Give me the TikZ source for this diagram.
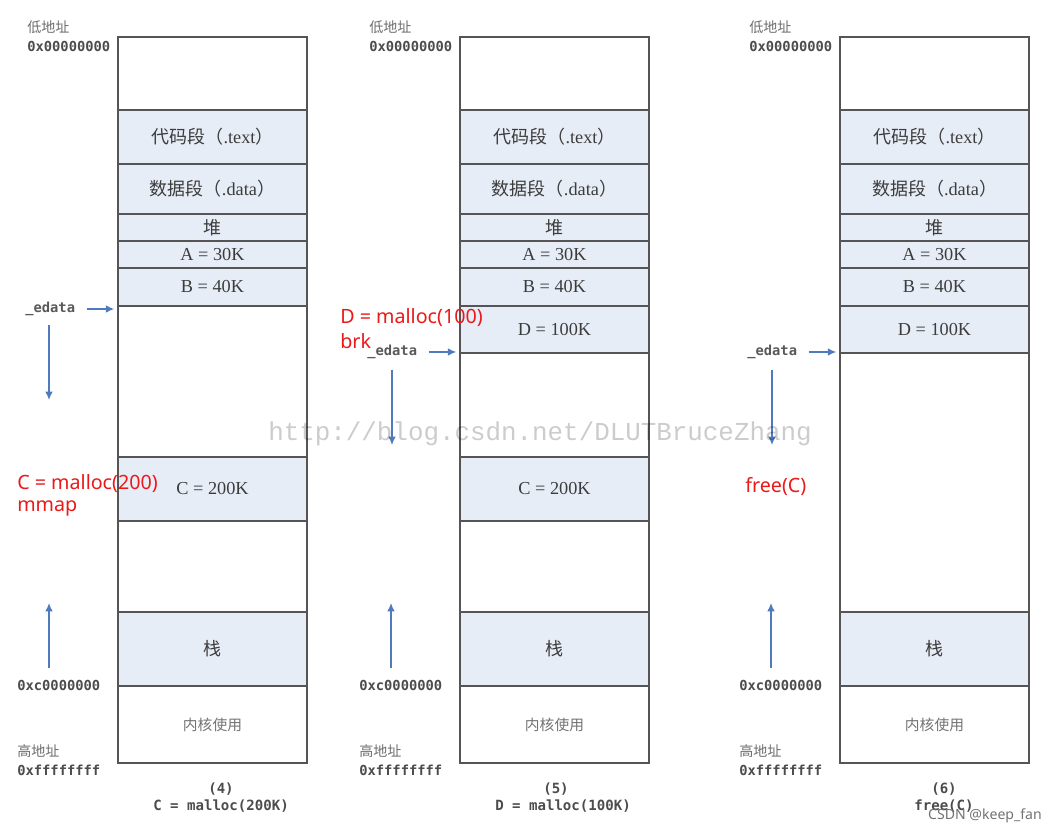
\documentclass[tikz,border=0pt]{standalone}
\usepackage{fontspec}
\setmainfont{Liberation Serif}
\setmonofont{DejaVu Sans Mono}
\newfontfamily\cjk{Noto Sans CJK SC}
\newfontfamily\redfont{Noto Sans}
\newfontfamily\wmfont{Liberation Mono}
\usetikzlibrary{arrows.meta,positioning}
\definecolor{segfill}{RGB}{231,237,247}
\definecolor{segline}{RGB}{85,85,85}
\definecolor{segtext}{RGB}{60,60,60}
\definecolor{arrblue}{RGB}{79,122,190}
\definecolor{notered}{RGB}{235,25,25}
\definecolor{lblgray}{RGB}{110,110,110}
\newcommand{\zhs}[1]{{\cjk\fontsize{12.8}{14}\selectfont #1}}

\begin{document}
\begin{tikzpicture}[x=0.025cm,y=-0.025cm,
  seg/.style={draw=segline,line width=1.3pt,minimum width=4.725cm,inner sep=0pt,text=segtext,font=\fontsize{13}{15}\selectfont},
  segfull/.style={seg,fill=segfill},
  addr/.style={anchor=west,inner sep=0pt,font=\ttfamily\bfseries\fontsize{9.8}{11}\selectfont,text=black!70},
  zh/.style={anchor=west,inner sep=0pt,font=\cjk\fontsize{10}{12}\selectfont,text=lblgray},
  rednote/.style={anchor=west,inner sep=0pt,font=\redfont\fontsize{14}{16}\selectfont,text=notered},
  captxt/.style={inner sep=0pt,font=\ttfamily\bfseries\fontsize{10}{12}\selectfont,text=black!70},
  arr/.style={-{Latex[length=6pt,width=5.5pt]},line width=1pt,arrblue}]
  \fill[white] (0,0) rectangle (1053,833);
  \useasboundingbox (0,0) rectangle (1053,833);

  % segments every column has
  \foreach \c/\dx in {a/0,b/342,c/722}{
    \node[seg,minimum height=1.825cm] (\c-top) at (212.5+\dx,73.5) {};
    \node[segfull,minimum height=1.35cm] (\c-text) at (212.5+\dx,137) {\zhs{代码段（}.text\zhs{）}};
    \node[segfull,minimum height=1.25cm] (\c-data) at (212.5+\dx,189) {\zhs{数据段（}.data\zhs{）}};
    \node[segfull,minimum height=0.675cm] (\c-heap) at (212.5+\dx,227.5) {\zhs{堆}};
    \node[segfull,minimum height=0.675cm] (\c-A) at (212.5+\dx,254.5) {A = 30K};
    \node[segfull,minimum height=0.95cm] (\c-B) at (212.5+\dx,287) {B = 40K};
    \node[segfull,minimum height=1.85cm] (\c-stack) at (212.5+\dx,649) {\zhs{栈}};
    \node[seg,minimum height=1.925cm,font=\cjk\fontsize{10.5}{12}\selectfont,text=black!55] (\c-kernel) at (212.5+\dx,724.5) {内核使用};
    % address labels
    \node[zh] (\c-low) at (27+\dx,27) {低地址};
    \node[addr] (\c-lowaddr) at (27+\dx,46) {0x00000000};
    \node[addr] (\c-stkaddr) at (17+\dx,685) {0xc0000000};
    \node[zh] (\c-high) at (17+\dx,751) {高地址};
    \node[addr] (\c-highaddr) at (17+\dx,770) {0xffffffff};
    % stack grows up
    \coordinate (\c-up0) at (49+\dx,668);
    \coordinate (\c-up1) at (49+\dx,603);
    \draw[arr] (\c-up0) -- (\c-up1);
  }

  % (4)
  \node[seg,minimum height=3.775cm] (a-gap1) at (212.5,381.5) {};
  \node[segfull,minimum height=1.6cm] (a-C) at (212.5,489) {C = 200K};
  \node[seg,minimum height=2.275cm] (a-gap2) at (212.5,566.5) {};
  % (5)
  \node[segfull,minimum height=1.175cm] (b-D) at (554.5,329.5) {D = 100K};
  \node[seg,minimum height=2.6cm] (b-gap1) at (554.5,405) {};
  \node[segfull,minimum height=1.6cm] (b-C) at (554.5,489) {C = 200K};
  \node[seg,minimum height=2.275cm] (b-gap2) at (554.5,566.5) {};
  % (6)
  \node[segfull,minimum height=1.175cm] (c-D) at (934.5,329.5) {D = 100K};
  \node[seg,minimum height=6.475cm] (c-gap1) at (934.5,482.5) {};

  % _edata pointers
  \node[addr,text=black!65] (a-ed) at (25,309) {\_edata};
  \node[addr,text=black!65] (b-ed) at (367,352) {\_edata};
  \node[addr,text=black!65] (c-ed) at (747,352) {\_edata};
  \draw[arr,shorten <=8pt,shorten >=2pt] (a-ed.east) -- (a-ed.east -| a-gap1.west);
  \draw[arr,shorten <=8pt,shorten >=2pt] (b-ed.east) -- (b-ed.east -| b-gap1.west);
  \draw[arr,shorten <=8pt,shorten >=2pt] (c-ed.east) -- (c-ed.east -| c-gap1.west);
  \coordinate (a-dn0) at (49,325);
  \coordinate (a-dn1) at (49,400);
  \coordinate (b-dn0) at (392,370);
  \coordinate (b-dn1) at (392,445);
  \coordinate (c-dn0) at (772,370);
  \coordinate (c-dn1) at (772,445);
  \draw[arr] (a-dn0) -- (a-dn1);
  \draw[arr] (b-dn0) -- (b-dn1);
  \draw[arr] (c-dn0) -- (c-dn1);

  % red notes
  \node[rednote] (a-note1) at (17,484) {C = malloc(200)};
  \node[rednote] (a-note2) at (17,508) {mmap};
  \node[rednote] (b-note1) at (340,318) {D = malloc(100)};
  \node[rednote] (b-note2) at (340,341) {brk};
  \node[rednote] (c-note1) at (745,487) {free(C)};

  % captions
  \node[captxt] (a-cap1) at (221,789) {(4)};
  \node[captxt] (a-cap2) at (221,806) {C = malloc(200K)};
  \node[captxt] (b-cap1) at (556,789) {(5)};
  \node[captxt] (b-cap2) at (563,806) {D = malloc(100K)};
  \node[captxt] (c-cap1) at (944,789) {(6)};
  \node[captxt] (c-cap2) at (944,806) {free(C)};

  % watermarks
  \node[font=\wmfont\fontsize{18.4}{20}\selectfont,text=black,text opacity=0.2] (wm) at (540,434) {http://blog.csdn.net/DLUTBruceZhang};
  \node[font=\redfont\fontsize{10}{12}\selectfont,text=black!55] (csdn) at (985,816) {CSDN @keep\_fan};
\end{tikzpicture}
\end{document}
